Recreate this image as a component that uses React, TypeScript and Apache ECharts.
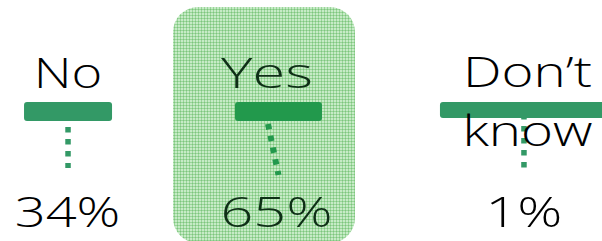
import React, { useEffect, useRef } from "react";
import * as echarts from "echarts";

// ---- data ----
const categories = ["No", "Yes", "Don\u2019t know"];
const percentages = [34, 65, 1];
const highlighted = "Yes";

// ---- layout (pixel offsets relative to each category centre) ----
const labelDx = [-32.3, -34, 25.8];
const labelY = [71.5, 71.5, 100.5];
const labelScale = [1.25, 1.42, 1.3];
const barDx = [-76.3, -66, -61.7];
const barW = [88, 87, 190];
const barY = [102, 102, 102];
const barH = [19, 19, 16];
const dotX1 = [-32.3, -33, 22.3];
const dotX2 = [-32.3, -22.5, 22.3];
const dotY1 = [127, 124, 114];
const dotY2 = [168, 175, 168];
const valueDx = [-32.8, -24.5, 22.3];
const valueY = 210.5;
const valueScale = [1.29, 1.37, 1.33];

const FONT = "300 42px 'Open Sans'";

function makePattern() {
  const c = document.createElement("canvas");
  c.width = 3;
  c.height = 3;
  const ctx = c.getContext("2d")!;
  ctx.fillStyle = "#c6ebc6";
  ctx.fillRect(0, 0, 3, 3);
  ctx.fillStyle = "#9ad59a";
  ctx.fillRect(0, 0, 3, 1);
  ctx.fillRect(0, 0, 1, 3);
  ctx.fillStyle = "#7cc67c";
  ctx.fillRect(0, 0, 1, 1);
  return c;
}

export default function App() {
  const ref = useRef<HTMLDivElement>(null);
  useEffect(() => {
    if (!ref.current) return;
    const chart = echarts.init(ref.current, undefined, { renderer: "svg" });
    const pattern = makePattern();
    const hiIdx = categories.indexOf(highlighted);

    const option: any = {
      animation: false,
      grid: { left: 0, right: 0, top: 0, bottom: 0 },
      xAxis: { type: "category", data: categories, show: false },
      yAxis: { type: "value", min: 0, max: 100, show: false },
      series: [
        {
          type: "custom",
          z: 1,
          data: [[hiIdx, percentages[hiIdx]]],
          renderItem: (params: any, api: any) => {
            const i = api.value(0);
            const cx = api.coord([i, 0])[0];
            return {
              type: "rect",
              shape: { x: cx - 128, y: 7, width: 182, height: 236, r: 25 },
              style: {
                fill: { image: pattern, repeat: "repeat", imageWidth: 3, imageHeight: 3 },
              },
            };
          },
        },
        {
          type: "custom",
          z: 2,
          data: categories.map((c, i) => [i, percentages[i]]),
          renderItem: (params: any, api: any) => {
            const i = api.value(0);
            const v = api.value(1);
            const cx = api.coord([i, 0])[0];
            const hi = categories[i] === highlighted;
            const green = hi ? "#22994c" : "#339966";
            const textColor = hi ? "#0e2f16" : "#000000";
            const label = categories[i].indexOf(" ") >= 0 ? categories[i].replace(" ", "\n") : categories[i];
            return {
              type: "group",
              children: [
                {
                  type: "line",
                  shape: { x1: cx + dotX1[i], y1: dotY1[i], x2: cx + dotX2[i], y2: dotY2[i] },
                  style: { stroke: green, lineWidth: hi ? 6 : 5.5, lineDash: [5.5, 6.5], lineCap: "butt" },
                },
                {
                  type: "rect",
                  shape: { x: cx + barDx[i], y: barY[i], width: barW[i], height: barH[i], r: 3 },
                  style: { fill: green },
                },
                {
                  type: "text",
                  x: cx + labelDx[i],
                  y: labelY[i],
                  scaleX: labelScale[i],
                  style: {
                    text: label,
                    font: FONT,
                    fill: textColor,
                    align: "center",
                    verticalAlign: "middle",
                    lineHeight: 59,
                  },
                },
                {
                  type: "text",
                  x: cx + valueDx[i],
                  y: valueY,
                  scaleX: valueScale[i],
                  style: {
                    text: v + "%",
                    font: FONT,
                    fill: textColor,
                    align: "center",
                    verticalAlign: "middle",
                  },
                },
              ],
            };
          },
        },
      ],
    };
    chart.setOption(option);
    return () => chart.dispose();
  }, []);
  return <div ref={ref} style={{ width: 602, height: 241, position: "absolute", left: 0, top: 0 }} />;
}
